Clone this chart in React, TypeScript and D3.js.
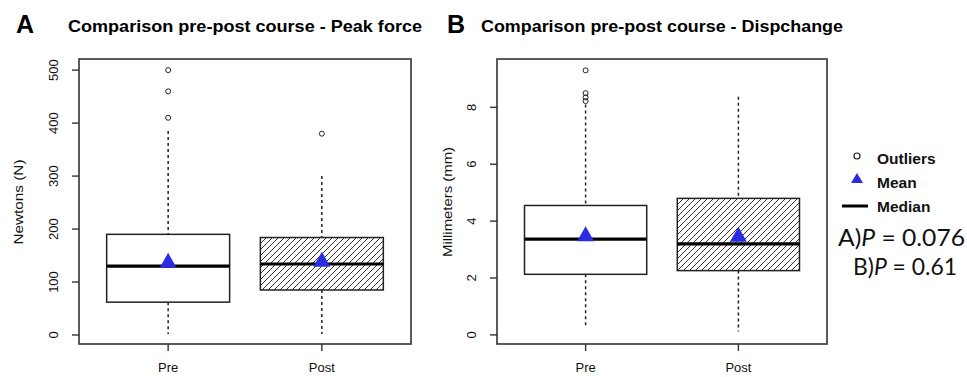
import React from "react";
import * as d3 from "d3";

const categories = ["Pre", "Post"];

// Panel A: Peak force (N)
const peakQ1 = [62, 85];
const peakMedian = [130, 134];
const peakQ3 = [190, 184];
const peakWhiskerLow = [2, 2];
const peakWhiskerHigh = [385, 300];
const peakMean = [140, 142];
const peakOutliers = [[500, 460, 410], [380]];
const peakTicks = [0, 100, 200, 300, 400, 500];

// Panel B: Dispchange (mm)
const dispQ1 = [2.13, 2.26];
const dispMedian = [3.37, 3.2];
const dispQ3 = [4.55, 4.8];
const dispWhiskerLow = [0.29, 0.12];
const dispWhiskerHigh = [8.1, 8.37];
const dispMean = [3.54, 3.52];
const dispOutliers = [[9.3, 8.5, 8.35, 8.22], []];
const dispTicks = [0, 2, 4, 6, 8];

const pValueLines = ["A)", "B)"];
const pValues = ["0.076", "0.61"];
const legendLabels = ["Outliers", "Mean", "Median"];

const BLUE = "#2b2be2";
const FRAME = "#333";
const FONT = "Liberation Sans, Arial, sans-serif";

type PanelProps = {
  letter: string;
  title: string;
  titleX: number;
  titleW: number;
  letterX: number;
  yLabel: string;
  yLabelX: number;
  yLabelW: number;
  left: number;
  right: number;
  domain: [number, number];
  ticks: number[];
  q1: number[];
  median: number[];
  q3: number[];
  wLow: number[];
  wHigh: number[];
  mean: number[];
  outliers: number[][];
};

const TOP = 59;
const BOTTOM = 344;

function Panel(p: PanelProps) {
  const y = d3.scaleLinear().domain(p.domain).range([BOTTOM, TOP]);
  const x = d3.scaleLinear().domain([0.42, 2.58]).range([p.left, p.right]);
  const half = (x(1.4) - x(1)) as number;
  return (
    <g>
      <text x={p.letterX} y={33} fontSize={25} fontWeight="bold" fontFamily={FONT}>
        {p.letter}
      </text>
      <text
        x={p.titleX}
        y={32}
        fontSize={16.5}
        fontWeight="bold"
        fontFamily={FONT}
        textLength={p.titleW}
        lengthAdjust="spacingAndGlyphs"
      >
        {p.title}
      </text>
      {/* y label */}
      <text
        transform={`translate(${p.yLabelX},${202}) rotate(-90)`}
        textAnchor="middle"
        fontSize={13.5}
        fontFamily={FONT}
        fill="#111"
        textLength={p.yLabelW}
        lengthAdjust="spacingAndGlyphs"
      >
        {p.yLabel}
      </text>
      {/* y ticks */}
      {p.ticks.map((t) => (
        <g key={t}>
          <line x1={p.left - 7} x2={p.left} y1={y(t)} y2={y(t)} stroke={FRAME} strokeWidth={1.4} />
          <text
            transform={`translate(${p.left - 21},${y(t)}) rotate(-90)`}
            textAnchor="middle"
            fontSize={13}
            fontFamily={FONT}
            fill="#111"
          >
            {String(t)}
          </text>
        </g>
      ))}
      {/* x ticks */}
      {categories.map((c, i) => (
        <g key={c}>
          <line x1={x(i + 1)} x2={x(i + 1)} y1={BOTTOM} y2={BOTTOM + 7} stroke={FRAME} strokeWidth={1.4} />
          <text x={x(i + 1)} y={372} textAnchor="middle" fontSize={13} fontFamily={FONT} fill="#111">
            {c}
          </text>
        </g>
      ))}
      {/* boxes */}
      {categories.map((c, i) => {
        const cx = x(i + 1);
        const yq1 = y(p.q1[i]);
        const yq3 = y(p.q3[i]);
        const ym = y(p.mean[i]);
        return (
          <g key={"b" + c}>
            <line x1={cx} x2={cx} y1={y(p.wHigh[i])} y2={yq3} stroke="#222" strokeWidth={1.5} strokeDasharray="3,3" />
            <line x1={cx} x2={cx} y1={yq1} y2={y(p.wLow[i])} stroke="#222" strokeWidth={1.5} strokeDasharray="3,3" />
            <rect
              x={cx - half}
              y={yq3}
              width={half * 2}
              height={yq1 - yq3}
              fill={i === 0 ? "#fff" : "url(#hatch)"}
              stroke="#222"
              strokeWidth={1.5}
            />
            <line x1={cx - half} x2={cx + half} y1={y(p.median[i])} y2={y(p.median[i])} stroke="#000" strokeWidth={3.2} />
            <path d={`M${cx - 8.5},${ym + 7} L${cx + 8.5},${ym + 7} L${cx},${ym - 8} Z`} fill={BLUE} />
            {p.outliers[i].map((o, k) => (
              <circle key={k} cx={cx} cy={y(o)} r={2.5} fill="none" stroke="#222" strokeWidth={1} />
            ))}
          </g>
        );
      })}
      {/* frame */}
      <rect x={p.left} y={TOP} width={p.right - p.left} height={BOTTOM - TOP} fill="none" stroke={FRAME} strokeWidth={1.6} />
    </g>
  );
}

export default function App() {
  return (
    <svg width={967} height={377} style={{ position: "absolute", left: 0, top: 0, background: "#fff" }}>
      <defs>
        <pattern id="hatch" patternUnits="userSpaceOnUse" width={6} height={6}>
          <rect width={6} height={6} fill="#fff" />
          <path d="M-1,7 L7,-1 M-1,1 L1,-1 M5,7 L7,5" stroke="#333" strokeWidth={1} />
        </pattern>
      </defs>
      <Panel
        letter="A"
        letterX={16}
        title="Comparison pre-post course - Peak force"
        titleX={68}
        titleW={354}
        yLabel="Newtons (N)"
        yLabelX={23}
        yLabelW={85}
        left={79}
        right={411}
        domain={[-17, 521]}
        ticks={peakTicks}
        q1={peakQ1}
        median={peakMedian}
        q3={peakQ3}
        wLow={peakWhiskerLow}
        wHigh={peakWhiskerHigh}
        mean={peakMean}
        outliers={peakOutliers}
      />
      <Panel
        letter="B"
        letterX={447}
        title="Comparison pre-post course - Dispchange"
        titleX={481}
        titleW={362}
        yLabel="Millimeters (mm)"
        yLabelX={452}
        yLabelW={110}
        left={497}
        right={827}
        domain={[-0.32, 9.7]}
        ticks={dispTicks}
        q1={dispQ1}
        median={dispMedian}
        q3={dispQ3}
        wLow={dispWhiskerLow}
        wHigh={dispWhiskerHigh}
        mean={dispMean}
        outliers={dispOutliers}
      />
      {/* legend */}
      <g fontFamily={FONT} fontSize={15.5} fontWeight="bold" fill="#111">
        <circle cx={857} cy={156} r={3} fill="none" stroke="#222" strokeWidth={1.2} />
        <text x={877} y={164}>{legendLabels[0]}</text>
        <path d="M851,183 L863,183 L857,173 Z" fill={BLUE} />
        <text x={877} y={188}>{legendLabels[1]}</text>
        <line x1={842} x2={868} y1={206} y2={206} stroke="#000" strokeWidth={3} />
        <text x={877} y={212}>{legendLabels[2]}</text>
      </g>
      {/* p values */}
      <g fontFamily="Lato, Open Sans, sans-serif" fontSize={23} fill="#111">
        <text x={838} y={246} textLength={127} lengthAdjust="spacingAndGlyphs">
          {pValueLines[0]}
          <tspan fontStyle="italic">P</tspan>
          {" = " + pValues[0]}
        </text>
        <text x={853} y={275} textLength={104} lengthAdjust="spacingAndGlyphs">
          {pValueLines[1]}
          <tspan fontStyle="italic">P</tspan>
          {" = " + pValues[1]}
        </text>
      </g>
    </svg>
  );
}
